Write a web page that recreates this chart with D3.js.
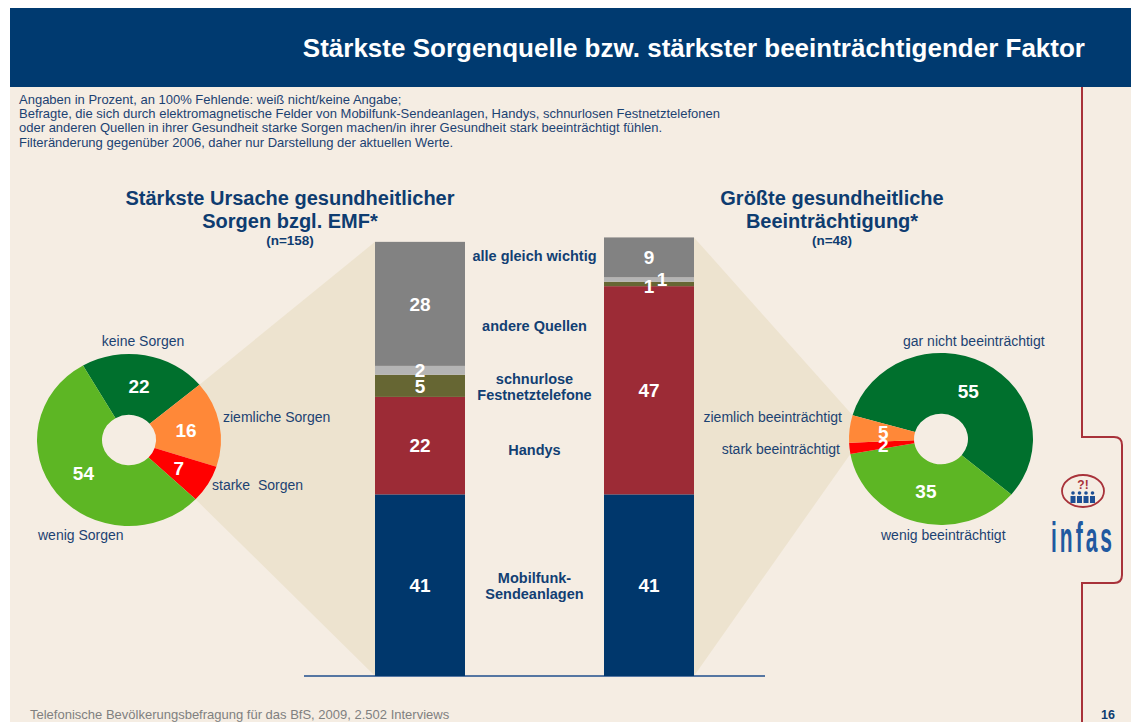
<!DOCTYPE html>
<html>
<head>
<meta charset="utf-8">
<script src="https://cdn.jsdelivr.net/npm/d3@7"></script>
<style>
  body { margin: 0; background: #fff; }
  svg text { font-family: "Liberation Sans", Arial, sans-serif; }
</style>
</head>
<body>
<div id="chart"></div>
<script>
// data
const worryCats = ["keine Sorgen", "ziemliche Sorgen", "starke  Sorgen", "wenig Sorgen"];
const worryVals = [22, 16, 7, 54];
const impairCats = ["gar nicht beeinträchtigt", "wenig beeinträchtigt", "stark beeinträchtigt", "ziemlich beeinträchtigt"];
const impairVals = [55, 35, 2, 5];
const sourceCats = ["Mobilfunk-Sendeanlagen", "Handys", "schnurlose Festnetztelefone", "andere Quellen", "alle gleich wichtig"];
const sourceWorry = [41, 22, 5, 2, 28];
const sourceImpair = [41, 47, 1, 1, 9];
const barGroups = ["Sorgen", "Beeinträchtigung"];

const width = 1131, height = 722;
const blue = "#003a70", textBlue = "#1c4272", redLine = "#a8323a";

const svg = d3.select("#chart").append("svg")
  .attr("width", width)
  .attr("height", height);

// background + header
svg.append("rect").attr("x", 10).attr("y", 8).attr("width", width - 10).attr("height", height - 8).attr("fill", "#f5ede3");
svg.append("rect").attr("x", 10).attr("y", 8).attr("width", width - 10).attr("height", 79).attr("fill", blue);
svg.append("text")
  .attr("x", 1085).attr("y", 57)
  .attr("text-anchor", "end")
  .style("font-size", "26px").style("font-weight", "bold").style("fill", "#fff")
  .text("Stärkste Sorgenquelle bzw. stärkster beeinträchtigender Faktor");

const notes = [
  "Angaben in Prozent, an 100% Fehlende: weiß nicht/keine Angabe;",
  "Befragte, die sich durch elektromagnetische Felder von Mobilfunk-Sendeanlagen, Handys, schnurlosen Festnetztelefonen",
  "oder anderen Quellen in ihrer Gesundheit starke Sorgen machen/in ihrer Gesundheit stark beeinträchtigt fühlen.",
  "Filteränderung gegenüber 2006, daher nur Darstellung der aktuellen Werte."
];
svg.append("g").selectAll("text")
  .data(notes)
  .join("text")
    .attr("x", 19)
    .attr("y", (d, i) => 104 + i * 14.2)
    .style("font-size", "13px")
    .style("fill", textBlue)
    .text(d => d);

// scales for the bars
const y = d3.scaleLinear().domain([0, 100]).range([676, 233]);
const x = d3.scaleBand().domain(barGroups).range([375, 694]).paddingInner(0.607);
const barColors = d3.scaleOrdinal().domain(sourceCats)
  .range(["#00376c", "#9c2b36", "#666633", "#b4b4b4", "#828282"]);

const ry = 0.935; // pies are slightly flattened
const pies = [
  {cats: worryCats, vals: worryVals, cx: 129, cy: 440, start: -30,
   colors: ["#00702d", "#ff8838", "#ff0000", "#5db624"], link: [1, 2]},
  {cats: impairCats, vals: impairVals, cx: 941, cy: 439, start: -74,
   colors: ["#00702d", "#5db624", "#ff0000", "#ff8838"], link: [2, 3]}
];
const outerR = 92, innerR = 27;

function polar(p, a, r) {
  return [p.cx + r * Math.sin(a), p.cy - r * Math.cos(a) * ry];
}

// shaded connectors between pie and bar
pies.forEach(function(p, k) {
  const arcs = d3.pie().sort(null).value(d => d)
    .startAngle(p.start * Math.PI / 180)
    .endAngle(p.start * Math.PI / 180 + 2 * Math.PI)(p.vals);
  p.arcs = arcs;
  const a0 = arcs[p.link[0]].startAngle, a1 = arcs[p.link[1]].endAngle;
  const total = d3.sum(k == 0 ? sourceWorry : sourceImpair);
  const bx = k == 0 ? x(barGroups[0]) : x(barGroups[1]) + x.bandwidth();
  let pts;
  if (k == 0) {
    pts = [[bx, y(total)], polar(p, a0, outerR), polar(p, a1, outerR), [bx, y(0)]];
  } else {
    pts = [[bx, y(total)], polar(p, a1, outerR), polar(p, a0, outerR), [bx, y(0)]];
  }
  svg.append("polygon")
    .attr("points", pts.map(d => d.join(",")).join(" "))
    .attr("fill", "#ede3cf");
});

// baseline
svg.append("line")
  .attr("x1", 304).attr("x2", 765)
  .attr("y1", y(0)).attr("y2", y(0))
  .attr("stroke", "#1f4e8c").attr("stroke-width", 1.5);

// stacked bars
[sourceWorry, sourceImpair].forEach(function(vals, k) {
  let acc = 0;
  const segs = vals.map(function(v, i) {
    const s = {cat: sourceCats[i], v: v, y0: acc, y1: acc + v};
    acc += v;
    return s;
  });
  const g = svg.append("g");
  g.selectAll("rect")
    .data(segs)
    .join("rect")
      .attr("x", x(barGroups[k]))
      .attr("width", x.bandwidth())
      .attr("y", d => y(d.y1))
      .attr("height", d => y(d.y0) - y(d.y1))
      .attr("fill", d => barColors(d.cat));
  g.selectAll("text")
    .data(segs)
    .join("text")
      .attr("x", function(d, i) {
        const c = x(barGroups[k]) + x.bandwidth() / 2;
        // second of two tiny neighbours is pushed aside
        if (d.v <= 1 && i > 0 && segs[i - 1].v <= 1) return c + 13;
        return c;
      })
      .attr("y", function(d, i) {
        const m = (y(d.y0) + y(d.y1)) / 2;
        if (d.v <= 1 && !(i > 0 && segs[i - 1].v <= 1)) return m + 2;
        return m;
      })
      .attr("dy", "0.36em")
      .attr("text-anchor", "middle")
      .style("font-size", "19px").style("font-weight", "bold").style("fill", "#fff")
      .text(d => d.v);
});

// category labels between the bars
const midX = (x(barGroups[0]) + x.bandwidth() + x(barGroups[1])) / 2;
const labelAt = {
  "Mobilfunk-Sendeanlagen": [586, ["Mobilfunk-", "Sendeanlagen"]],
  "Handys": [450, ["Handys"]],
  "schnurlose Festnetztelefone": [387, ["schnurlose", "Festnetztelefone"]],
  "andere Quellen": [326, ["andere Quellen"]],
  "alle gleich wichtig": [256, ["alle gleich wichtig"]]
};
sourceCats.forEach(function(c) {
  const [cy, lines] = labelAt[c];
  svg.append("g").selectAll("text")
    .data(lines)
    .join("text")
      .attr("x", midX)
      .attr("y", (d, i) => cy + (i - (lines.length - 1) / 2) * 16)
      .attr("dy", "0.36em")
      .attr("text-anchor", "middle")
      .style("font-size", "14.5px").style("font-weight", "bold").style("fill", "#123f73")
      .text(d => d);
});

// pies
const arc = d3.arc().innerRadius(innerR).outerRadius(outerR);
pies.forEach(function(p) {
  const g = svg.append("g")
    .attr("transform", `translate(${p.cx},${p.cy}) scale(1,${ry})`);
  g.selectAll("path")
    .data(p.arcs)
    .join("path")
      .attr("d", arc)
      .attr("fill", (d, i) => p.colors[i]);
  svg.append("g").selectAll("text")
    .data(p.arcs)
    .join("text")
      .attr("x", d => polar(p, (d.startAngle + d.endAngle) / 2, 58)[0])
      .attr("y", d => polar(p, (d.startAngle + d.endAngle) / 2, 58)[1])
      .attr("dy", "0.36em")
      .attr("text-anchor", "middle")
      .style("font-size", "19px").style("font-weight", "bold").style("fill", "#fff")
      .text(d => d.data);
});

// pie legends
const pieLabels = [
  {t: worryCats[0], x: 143, y: 346, a: "middle"},
  {t: worryCats[1], x: 223, y: 422, a: "start"},
  {t: worryCats[2], x: 212, y: 490, a: "start"},
  {t: worryCats[3], x: 38, y: 540, a: "start"},
  {t: impairCats[0], x: 903, y: 346, a: "start"},
  {t: impairCats[1], x: 881, y: 540, a: "start"},
  {t: impairCats[2], x: 840, y: 454, a: "end"},
  {t: impairCats[3], x: 842, y: 422, a: "end"}
];
svg.append("g").selectAll("text")
  .data(pieLabels)
  .join("text")
    .attr("x", d => d.x).attr("y", d => d.y)
    .attr("text-anchor", d => d.a)
    .style("font-size", "14px").style("fill", textBlue)
    .style("white-space", "pre")
    .text(d => d.t);

// headings
const headings = [
  {x: 290, lines: ["Stärkste Ursache gesundheitlicher", "Sorgen bzgl. EMF*"], n: "(n=158)"},
  {x: 832, lines: ["Größte gesundheitliche", "Beeinträchtigung*"], n: "(n=48)"}
];
headings.forEach(function(h) {
  svg.append("g").selectAll("text")
    .data(h.lines)
    .join("text")
      .attr("x", h.x).attr("y", (d, i) => 205 + i * 23)
      .attr("text-anchor", "middle")
      .style("font-size", "20px").style("font-weight", "bold").style("fill", "#0e3c70")
      .text(d => d);
  svg.append("text")
    .attr("x", h.x).attr("y", 245)
    .attr("text-anchor", "middle")
    .style("font-size", "13.5px").style("font-weight", "bold").style("fill", "#0e3c70")
    .text(h.n);
});

// right-hand rule with the logo notch
svg.append("path")
  .attr("d", "M1082,87 V437 H1114 Q1122,437 1122,445 V575 Q1122,583 1114,583 H1082 V722")
  .attr("fill", "none").attr("stroke", redLine).attr("stroke-width", 2);

// infas logo
const logo = svg.append("g");
logo.append("ellipse")
  .attr("cx", 1083).attr("cy", 491).attr("rx", 21).attr("ry", 16)
  .attr("fill", "none").attr("stroke", redLine).attr("stroke-width", 1.8);
logo.append("text")
  .attr("x", 1083).attr("y", 489)
  .attr("text-anchor", "middle")
  .style("font-size", "12px").style("font-weight", "bold").style("fill", redLine)
  .text("?!");
d3.range(4).forEach(function(i) {
  const px = 1073 + i * 6.5;
  logo.append("circle").attr("cx", px).attr("cy", 493).attr("r", 1.8).attr("fill", "#1d4f94");
  logo.append("path")
    .attr("d", `M${px - 2.5},503 L${px - 2.5},496 L${px + 2.5},496 L${px + 2.5},503 Z`)
    .attr("fill", "#1d4f94");
});
logo.append("text")
  .attr("x", 1083 / 0.5).attr("y", 552)
  .attr("transform", "scale(0.5,1)")
  .attr("text-anchor", "middle")
  .style("font-size", "42px").style("font-weight", "bold").style("letter-spacing", "6px").style("fill", "#2159a0")
  .text("infas");

// footer
svg.append("text")
  .attr("x", 30).attr("y", 719)
  .style("font-size", "13px").style("fill", "#808080")
  .text("Telefonische Bevölkerungsbefragung für das BfS, 2009, 2.502 Interviews");
svg.append("text")
  .attr("x", 1108).attr("y", 719)
  .attr("text-anchor", "middle")
  .style("font-size", "12.5px").style("font-weight", "bold").style("fill", "#0e3c70")
  .text("16");
</script>
</body>
</html>
